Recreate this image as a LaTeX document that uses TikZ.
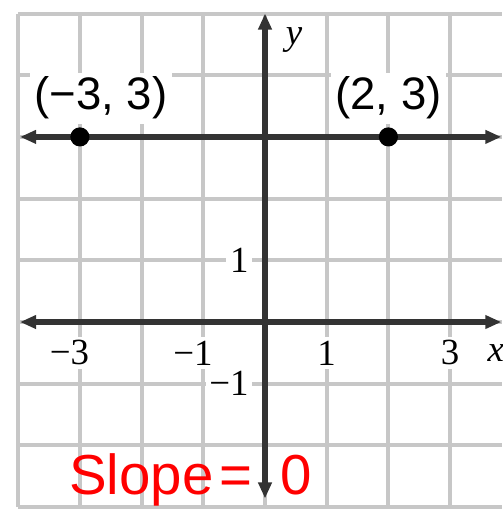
\documentclass[tikz,border=0pt]{standalone}
\usepackage{fontspec}
\setmainfont{Liberation Serif}
\newfontfamily\labelsans{Liberation Sans}
\usetikzlibrary{arrows.meta}
\tikzset{
  gridline/.style={draw=black!22, line width=0.065cm},
  axisline/.style={draw=black!80, line width=0.085cm,
    {Triangle[length=0.26cm,width=0.21cm]}-{Triangle[length=0.26cm,width=0.21cm]}},
  ticklbl/.style={fill=white, inner sep=0.06cm, font=\fontsize{17}{17}\selectfont},
  ptlbl/.style={fill=white, inner sep=0.07cm, font=\labelsans\fontsize{21}{21}\selectfont},
  ptdot/.style={circle, fill=black, inner sep=0pt, minimum size=0.31cm},
  hand/.style={text=red, inner sep=0pt, font=\labelsans\fontsize{26}{26}\selectfont},
}
\begin{document}
\begin{tikzpicture}
\useasboundingbox (-4.295,-3.241) rectangle (3.841,5.219);
% grid
\foreach \x in {-4,...,3} \draw[gridline] (\x,-3) -- (\x,5);
\foreach \y in {-3,...,5} \draw[gridline] (-4,\y) -- (3.841,\y);
% tick labels
\node[ticklbl] (xm3) at (-3,-0.5) {\llap{−}3};
\node[ticklbl] (xm1) at (-1,-0.5) {\llap{−}1};
\node[ticklbl] (xp1) at (1,-0.5) {1};
\node[ticklbl] (xp3) at (3,-0.5) {3};
\node[ticklbl, inner sep=0pt] (xl) at (3.74,-0.5) {\itshape x};
\node[ticklbl, anchor=east] (yp1) at (-0.2,1) {1};
\node[ticklbl, anchor=east] (ym1) at (-0.2,-1) {−1};
\node[ticklbl, fill=none, inner sep=0pt] (yl) at (0.47,4.57) {\itshape y};
% point labels
\node[ptlbl] (la) at (-2.66,3.63) {(−3, 3)};
\node[ptlbl] (lb) at (2.0,3.63) {(2, 3)};
% axes
\coordinate (xa) at (-3.97,0);
\coordinate (xb) at (3.83,0);
\coordinate (ya) at (0,-2.86);
\coordinate (yb) at (0,5.0);
\draw[axisline] (xa) -- (xb);
\draw[axisline] (ya) -- (yb);
% horizontal line y=3
\coordinate (ha) at (-3.97,3);
\coordinate (hb) at (3.83,3);
\draw[axisline] (ha) -- (hb);
\node[ptdot] (pa) at (-3,3) {};
\node[ptdot] (pb) at (2,3) {};
% slope note
\node[hand, anchor=base west] (slope) at (-3.18,-2.80) {Slope\hspace{0.1cm}=\hspace{0.45cm}0};
\end{tikzpicture}
\end{document}
